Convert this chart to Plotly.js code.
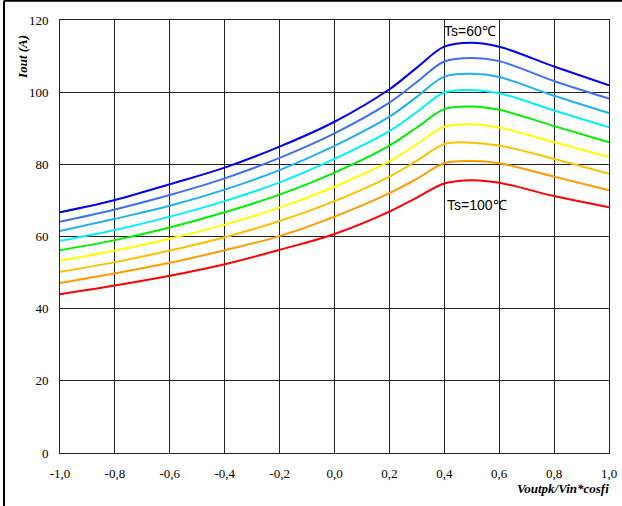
<!DOCTYPE html>
<html>
<head>
<meta charset="utf-8">
<script src="https://cdn.plot.ly/plotly-3.0.1.min.js"></script>
<style>
html,body{margin:0;padding:0;background:#fff;}
#chart{width:622px;height:506px;}
</style>
</head>
<body>
<div id="chart"></div>
<script>
// x values: Voutpk/Vin*cosfi
const xVals = [-1.0, -0.8, -0.6, -0.4, -0.2, 0.0, 0.2, 0.3, 0.4, 0.5, 0.6, 0.8, 1.0];

// Iout (A) curves, top (Ts=60℃) to bottom (Ts=100℃)
const ts60  = [66.7, 70.1, 74.5, 79.1, 84.9, 91.8, 100.8, 106.8, 112.6, 113.7, 112.6, 107.1, 101.9];
const ts65  = [64.1, 67.5, 71.5, 76.1, 81.8, 88.6, 97.1, 102.8, 108.5, 109.5, 108.6, 103.1, 98.2];
const ts70  = [61.5, 64.9, 68.5, 73.0, 78.4, 85.1, 93.2, 98.7, 104.3, 105.1, 104.2, 99.0, 94.2];
const ts75  = [58.8, 61.8, 65.5, 69.8, 75.0, 81.5, 89.2, 94.5, 99.9, 100.6, 99.7, 94.9, 90.3];
const ts80  = [56.2, 59.0, 62.5, 66.7, 71.6, 77.7, 85.2, 90.2, 95.3, 96.0, 95.1, 90.6, 86.1];
const ts85  = [53.3, 56.1, 59.4, 63.3, 68.0, 73.8, 80.8, 85.6, 90.4, 91.1, 90.2, 86.1, 82.0];
const ts90  = [50.2, 52.9, 56.1, 59.8, 64.3, 69.8, 76.6, 81.0, 85.6, 86.0, 85.2, 81.5, 77.4];
const ts95  = [47.1, 49.8, 52.7, 56.2, 60.1, 65.5, 72.0, 76.0, 80.3, 80.9, 80.3, 76.6, 72.8];
const ts100 = [44.0, 46.4, 49.1, 52.3, 56.3, 60.7, 66.9, 70.8, 74.7, 75.6, 74.9, 71.2, 68.1];

const seriesNames = ["Ts=60℃","Ts=65℃","Ts=70℃","Ts=75℃","Ts=80℃","Ts=85℃","Ts=90℃","Ts=95℃","Ts=100℃"];
const seriesColors = ["#0000ee","#4070f0","#20b0f0","#00f0ff","#00ee00","#ffff00","#ffc000","#ff9a00","#ff0000"];
const seriesData = [ts60, ts65, ts70, ts75, ts80, ts85, ts90, ts95, ts100];

// tick labels
const xTickVals = [-1.0, -0.8, -0.6, -0.4, -0.2, 0.0, 0.2, 0.4, 0.6, 0.8, 1.0];
const xTickText = ["-1,0","-0,8","-0,6","-0,4","-0,2","0,0","0,2","0,4","0,6","0,8","1,0"];
const yTickVals = [0, 20, 40, 60, 80, 100, 120];
const yTickText = ["0","20","40","60","80","100","120"];

const traces = seriesData.map((d, i) => ({
  x: xVals, y: d, type: 'scatter', mode: 'lines', name: seriesNames[i],
  line: {color: seriesColors[i], width: 2, shape: 'spline', smoothing: 1},
  hoverinfo: 'skip'
}));

const tickFont = {family: '"Liberation Serif","Times New Roman",serif', size: 13, color: '#000'};
const titleFont = {family: '"Liberation Serif","Times New Roman",serif', size: 13, color: '#000'};

const layout = {
  width: 622, height: 506,
  margin: {l: 60, r: 13, t: 20, b: 53, pad: 0},
  paper_bgcolor: '#fff', plot_bgcolor: '#fff',
  showlegend: false,
  xaxis: {
    range: [-1, 1], tickvals: xTickVals, ticktext: xTickText,
    showgrid: true, gridcolor: '#222', gridwidth: 1,
    zeroline: false, showline: true, linecolor: '#222', linewidth: 1, mirror: true,
    ticks: '', tickfont: tickFont, ticklabelstandoff: 8
  },
  yaxis: {
    range: [0, 120], tickvals: yTickVals, ticktext: yTickText,
    showgrid: true, gridcolor: '#222', gridwidth: 1,
    zeroline: false, showline: true, linecolor: '#222', linewidth: 1, mirror: true,
    ticks: '', tickfont: tickFont, ticklabelstandoff: 8
  },
  annotations: [
    {text: 'Ts=60℃', x: 0.493, y: 117, xref: 'x', yref: 'y', showarrow: false,
     font: {family: '"Liberation Sans",Arial,sans-serif', size: 14, color: '#000'}},
    {text: 'Ts=100℃', x: 0.52, y: 68.6, xref: 'x', yref: 'y', showarrow: false,
     font: {family: '"Liberation Sans",Arial,sans-serif', size: 14, color: '#000'}},
    {text: '<b><i>Iout (A)</i></b>', textangle: -90, xref: 'paper', yref: 'paper',
     x: -0.068, y: 0.914, xanchor: 'center', yanchor: 'middle', showarrow: false, font: titleFont},
    {text: '<b><i>Voutpk/Vin*cosfi</i></b>', xref: 'paper', yref: 'paper',
     x: 1.004, y: -0.081, xanchor: 'right', yanchor: 'middle', showarrow: false, font: titleFont}
  ],
  shapes: [
    {type: 'line', xref: 'paper', yref: 'paper', x0: -0.102, x1: 1.03, y0: 1.0445, y1: 1.0445,
     line: {color: '#000', width: 2}},
    {type: 'line', xref: 'paper', yref: 'paper', x0: -0.102, x1: -0.102, y0: -0.125, y1: 1.0445,
     line: {color: '#000', width: 2}}
  ]
};

Plotly.newPlot('chart', traces, layout, {staticPlot: true, displayModeBar: false});
</script>
</body>
</html>
